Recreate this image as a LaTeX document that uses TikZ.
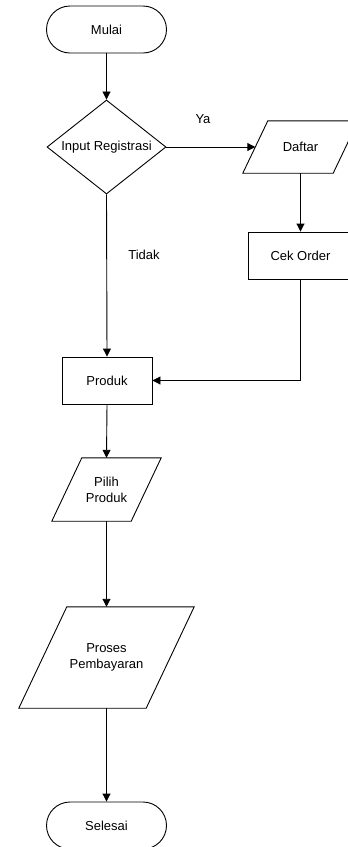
\documentclass[tikz,border=0pt]{standalone}
\usepackage{fontspec}
\setmainfont{Liberation Sans}
\usetikzlibrary{shapes.geometric,arrows.meta}
\begin{document}
\begin{tikzpicture}[x=1pt,y=-1pt,
  every node/.style={font=\fontsize{13}{16}\selectfont, align=center, inner sep=0pt},
  ln/.style={line width=0.9pt, draw=black},
  arr/.style={ln, -{Triangle[length=8pt,width=8pt]}},
  term/.style={ln, rectangle, rounded corners=23.5pt, minimum width=120pt, minimum height=47pt},
  proc/.style={ln, rectangle, minimum height=47pt},
  dec/.style={ln, diamond, minimum width=119pt, minimum height=94pt},
  io/.style={rectangle, draw=none}
]
\useasboundingbox (0,0) rectangle (348,847);
\clip (0,0) rectangle (348,847);

\node[term] (mulai) at (106.5,29.5) {Mulai};
\node[dec] (reg) at (106.5,147) {\makebox[40pt]{Input Registrasi}};
\node[io, minimum width=90pt, minimum height=52pt] (daftar) at (300.5,147) {Daftar};
\node[proc, minimum width=105pt] (cek) at (300.5,255.5) {Cek Order};
\node[proc, minimum width=90pt] (produk) at (107,380.5) {Produk};
\node[io, minimum width=79pt, minimum height=63pt] (pilih) at (106.5,489.5) {Pilih\\Produk};
\node[io, minimum width=127pt, minimum height=101pt] (proses) at (106.5,657.5) {Proses\\Pembayaran};
\node[term] (selesai) at (106.5,825.5) {Selesai};

% parallelograms
\draw[ln] ([xshift=12.5pt]daftar.north west) -- ([xshift=12.5pt]daftar.north east)
  -- ([xshift=-12.5pt]daftar.south east) -- ([xshift=-12.5pt]daftar.south west) -- cycle;
\draw[ln] ([xshift=15pt]pilih.north west) -- ([xshift=15pt]pilih.north east)
  -- ([xshift=-15pt]pilih.south east) -- ([xshift=-15pt]pilih.south west) -- cycle;
\draw[ln] ([xshift=24pt]proses.north west) -- ([xshift=24pt]proses.north east)
  -- ([xshift=-24pt]proses.south east) -- ([xshift=-24pt]proses.south west) -- cycle;

% connectors
\draw[arr] (mulai) -- (reg);
\draw[arr] (reg.east) -- (daftar.west);
\draw[arr] (daftar.south) -- (cek.north);
\draw[arr] (cek.south) |- (produk.east);
\draw[arr] (reg.south) -- (produk.north);
\draw[arr] (produk.south) -- (pilih.north);
\draw[arr] (pilih.south) -- (proses.north);
\draw[arr] (proses.south) -- (selesai.north);

% labels
\node (ya) at (203,119) {Ya};
\node (tidak) at (144,255) {Tidak};
\end{tikzpicture}
\end{document}
